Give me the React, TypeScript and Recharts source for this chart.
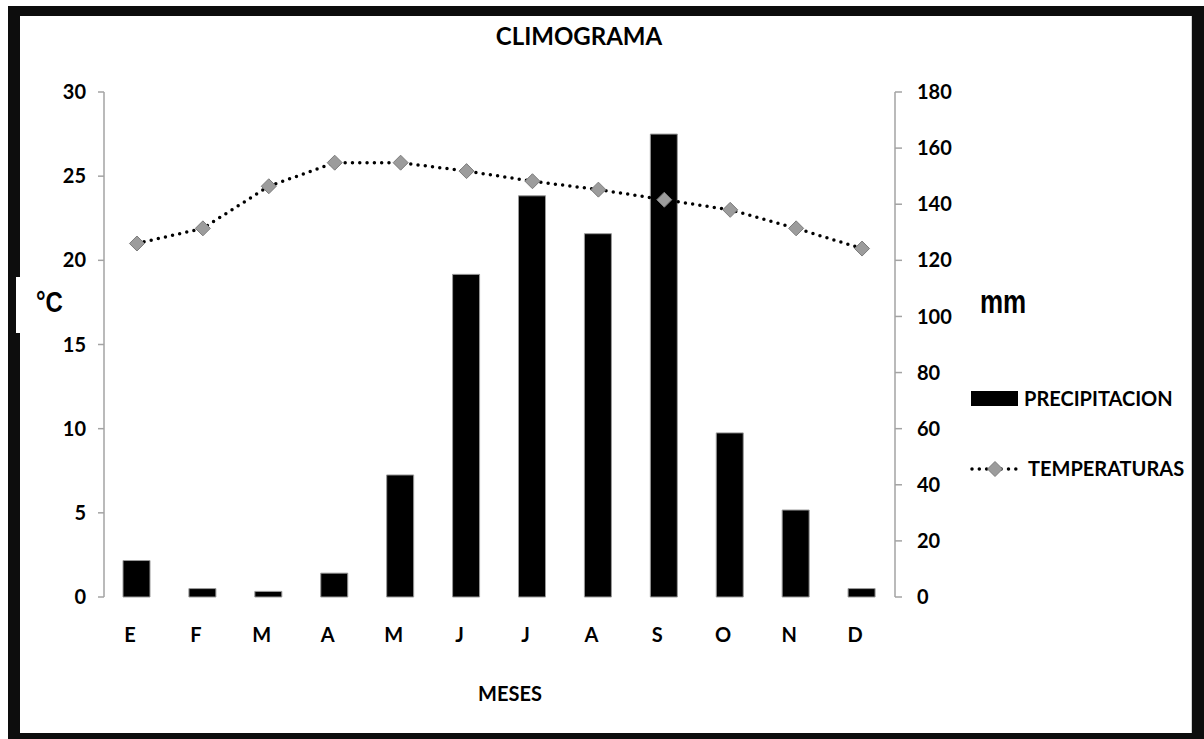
import React from 'react';
import { ComposedChart, Bar, Line, XAxis, YAxis, Legend } from 'recharts';

// monthly climate values
const months = ['E', 'F', 'M', 'A', 'M', 'J', 'J', 'A', 'S', 'O', 'N', 'D'];
const precipitation = [13, 3, 2, 8.5, 43.5, 115, 143, 129.5, 165, 58.5, 31, 3];
const temperature = [21.0, 21.9, 24.4, 25.8, 25.8, 25.3, 24.7, 24.2, 23.6, 23.0, 21.9, 20.7];
const tempTicks = [0, 5, 10, 15, 20, 25, 30];
const rainTicks = [0, 20, 40, 60, 80, 100, 120, 140, 160, 180];

const data = months.map((mes, i) => ({
  mes,
  PRECIPITACION: precipitation[i],
  TEMPERATURAS: temperature[i],
}));

const FONT = 'Lato, "Open Sans", sans-serif';
const AXIS_GRAY = '#a3a3a3';
const tickStyle = { fill: '#000', fontSize: 20, fontWeight: 700, fontFamily: FONT };

const Diamond = (props: any) => {
  const { cx, cy } = props;
  if (cx == null || cy == null) return null;
  const r = 7.5;
  return (
    <path
      d={`M${cx},${cy - r}L${cx + r},${cy}L${cx},${cy + r}L${cx - r},${cy}Z`}
      fill="#9c9c9c"
      stroke="#7c7c7c"
      strokeWidth={1}
    />
  );
};

const LegendBox = () => (
  <svg width={240} height={110} style={{ overflow: 'visible' }}>
    <rect x={11} y={11} width={47} height={15} fill="#000" />
    <text x={64} y={26} fontSize={20} fontWeight={700} fontFamily={FONT} fill="#000">
      PRECIPITACION
    </text>
    <line x1={12} y1={89} x2={58} y2={89} stroke="#000" strokeWidth={3.5} strokeLinecap="round" strokeDasharray="0 7.3" />
    <Diamond cx={35} cy={89} />
    <text x={68} y={96} fontSize={20} fontWeight={700} fontFamily={FONT} fill="#000">
      TEMPERATURAS
    </text>
  </svg>
);

export default function App() {
  return (
    <div style={{ position: 'absolute', left: 0, top: 0, width: 1204, height: 739, background: '#fff' }}>
      {/* frame */}
      <div style={{ position: 'absolute', left: 8, top: 6, width: 1196, height: 733, background: '#0d0d0d' }} />
      <div style={{ position: 'absolute', left: 20, top: 16, width: 1172, height: 717, background: '#fff', borderRight: '1px solid #d0d0d0', boxSizing: 'border-box' }} />
      <div style={{ position: 'absolute', left: 16, top: 277, width: 60, height: 56, background: '#fff' }} />

      <div style={{ position: 'absolute', left: 0, top: 0 }}>
        <ComposedChart
          width={1204}
          height={739}
          data={data}
          margin={{ top: 92, right: 249, bottom: 112, left: 44 }}
        >
          <XAxis
            dataKey="mes"
            height={30}
            axisLine={false}
            tickLine={false}
            tickSize={0}
            tickMargin={31}
            tick={{ ...tickStyle, dx: -7 }}
            interval={0}
          />
          <YAxis
            yAxisId="c"
            orientation="left"
            width={60}
            domain={[0, 30]}
            ticks={tempTicks}
            tickSize={6}
            tickMargin={12}
            tick={tickStyle}
            axisLine={{ stroke: AXIS_GRAY, strokeWidth: 1.5 }}
            tickLine={{ stroke: AXIS_GRAY, strokeWidth: 1.5 }}
          />
          <YAxis
            yAxisId="mm"
            orientation="right"
            width={60}
            domain={[0, 180]}
            ticks={rainTicks}
            tickSize={7}
            tickMargin={15}
            tick={{ ...tickStyle, textAnchor: 'start' }}
            axisLine={{ stroke: AXIS_GRAY, strokeWidth: 1.5 }}
            tickLine={{ stroke: AXIS_GRAY, strokeWidth: 1.5 }}
          />
          <Legend
            layout="vertical"
            align="center"
            verticalAlign="middle"
            wrapperStyle={{ left: 960, top: 380, width: 240 }}
            content={() => <LegendBox />}
          />
          <Bar
            yAxisId="mm"
            dataKey="PRECIPITACION"
            barSize={27}
            fill="#000"
            stroke="#9a9a9a"
            strokeWidth={1}
            isAnimationActive={false}
          />
          <Line
            yAxisId="c"
            type="linear"
            dataKey="TEMPERATURAS"
            stroke="#000"
            strokeWidth={3.5}
            strokeLinecap="round"
            strokeDasharray="0 7.3"
            dot={<Diamond />}
            activeDot={false}
            isAnimationActive={false}
          />
        </ComposedChart>
      </div>

      {/* titles */}
      <svg width={1204} height={739} style={{ position: 'absolute', left: 0, top: 0, pointerEvents: 'none' }}>
        <text x={579} y={45} textAnchor="middle" fontSize={24} fontWeight={700} fontFamily={FONT} fill="#000">
          CLIMOGRAMA
        </text>
        <text x={510} y={701} textAnchor="middle" fontSize={20} fontWeight={700} fontFamily={FONT} fill="#000">
          MESES
        </text>
        <g transform="translate(36,312) scale(1,1.25)">
          <text x={0} y={0} fontSize={24} fontWeight={700} fontFamily='"Liberation Sans", Arial, sans-serif' fill="#000">
            °C
          </text>
        </g>
        <g transform="translate(980,313) scale(1,1.25)">
          <text x={0} y={0} fontSize={26} fontWeight={700} fontFamily='"Liberation Sans", Arial, sans-serif' fill="#000">
            mm
          </text>
        </g>
      </svg>
    </div>
  );
}
